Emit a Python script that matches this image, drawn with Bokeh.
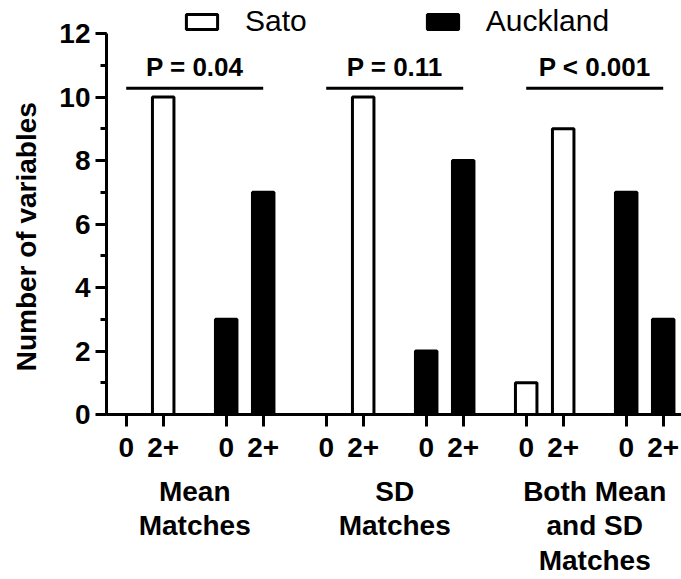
from bokeh.plotting import figure
from bokeh.models import (Range1d, FixedTicker, SingleIntervalTicker, LinearAxis,
                          Legend, LegendItem)
from bokeh.embed import file_html
from bokeh.resources import INLINE
from bokeh.core.properties import value

# ---------------- data ----------------
groups = ["Mean\nMatches", "SD\nMatches", "Both Mean\nand SD\nMatches"]
count_labels = ["0", "2+"]
series_names = ["Sato", "Auckland"]
sato_0 = [0, 0, 1]
sato_2plus = [10, 10, 9]
auckland_0 = [3, 2, 7]
auckland_2plus = [7, 8, 3]
p_labels = ["P = 0.04", "P = 0.11", "P < 0.001"]
y_label = "Number of variables"

# ---------------- layout constants ----------------
GROUP_STEP = 2.0
SERIES_STEP = 1.0
COUNT_STEP = 0.37
BAR_W = 0.215
P_LINE_Y = 10.28
P_TEXT_Y = 10.94
Y_LABEL_POS = 5.6
FONT = "Liberation Sans"

series = [
    (series_names[0], "white", [sato_0, sato_2plus]),
    (series_names[1], "black", [auckland_0, auckland_2plus]),
]

p = figure(width=681, height=579, output_backend="svg", toolbar_location=None,
           x_range=Range1d(-0.197, 5.553), y_range=Range1d(0, 13.04),
           min_border_left=106, min_border_right=0, min_border_top=0,
           min_border_bottom=165)
p.xgrid.visible = False
p.ygrid.visible = False
p.outline_line_color = None
p.background_fill_color = "white"
p.border_fill_color = "white"

tick_pos = []
tick_overrides = {}
legend_items = []
for s_i, (name, color, vals) in enumerate(series):
    xs, tops = [], []
    for g in range(len(groups)):
        for c in range(len(count_labels)):
            x = g * GROUP_STEP + s_i * SERIES_STEP + c * COUNT_STEP
            xs.append(x)
            tops.append(vals[c][g])
            tick_pos.append(x)
            tick_overrides[x] = count_labels[c]
    r = p.vbar(x=xs, top=tops, width=BAR_W, fill_color=color,
               line_color="black", line_width=3)
    legend_items.append(LegendItem(label=name, renderers=[r]))

legend = Legend(items=legend_items, orientation="horizontal", location=(76, 376),
                glyph_width=39, glyph_height=19, label_standoff=24, spacing=116,
                padding=0, margin=0, border_line_color=None,
                background_fill_alpha=0, label_text_font=FONT,
                label_text_font_size="30px", label_text_color="black")
p.add_layout(legend)

# significance bars
bases = [g * GROUP_STEP for g in range(len(groups))]
span = SERIES_STEP + COUNT_STEP
p.segment(x0=bases, x1=[b + span for b in bases], y0=P_LINE_Y, y1=P_LINE_Y,
          line_width=3, line_color="black")
p.text(x=[b + span / 2 for b in bases], y=P_TEXT_Y, text=p_labels,
       text_align="center", text_baseline="alphabetic",
       text_font=value(FONT), text_font_style="bold", text_font_size="26px",
       text_color="black")

# y axis
ya = p.yaxis[0]
ya.ticker = SingleIntervalTicker(interval=2, num_minor_ticks=2)
ya.bounds = (0, 12)
ya.axis_line_width = 3
ya.major_tick_line_width = 3
ya.minor_tick_line_width = 3
ya.major_tick_out = 11
ya.major_tick_in = 0
ya.minor_tick_out = 6
ya.minor_tick_in = 0
ya.major_label_standoff = 5
ya.major_label_text_font = FONT
ya.major_label_text_font_style = "bold"
ya.major_label_text_font_size = "28px"
ya.major_label_text_color = "black"

# y axis title, as a label-only axis so it can sit where the reference has it
ylab_axis = LinearAxis(ticker=FixedTicker(ticks=[Y_LABEL_POS], minor_ticks=[]),
                       major_label_overrides={Y_LABEL_POS: y_label},
                       major_label_orientation="vertical",
                       axis_line_color=None, major_tick_line_color=None,
                       minor_tick_line_color=None, major_tick_out=0, major_tick_in=0,
                       major_label_standoff=14, major_label_text_font=FONT,
                       major_label_text_font_style="bold",
                       major_label_text_font_size="28px",
                       major_label_text_color="black")
p.add_layout(ylab_axis, "left")

# x axis (counts)
xa = p.xaxis[0]
xa.ticker = FixedTicker(ticks=sorted(tick_pos), minor_ticks=[])
xa.major_label_overrides = tick_overrides
xa.axis_line_width = 3
xa.major_tick_line_width = 3
xa.major_tick_out = 12
xa.major_tick_in = 0
xa.minor_tick_line_color = None
xa.major_label_standoff = 11
xa.major_label_text_font = FONT
xa.major_label_text_font_style = "bold"
xa.major_label_text_font_size = "28px"
xa.major_label_text_color = "black"

# x axis (groups)
centers = [b + span / 2 for b in bases]
cat_axis = LinearAxis(ticker=FixedTicker(ticks=centers, minor_ticks=[]),
                      major_label_overrides={c: groups[i] for i, c in enumerate(centers)},
                      axis_line_color=None, major_tick_line_color=None,
                      minor_tick_line_color=None, major_tick_out=0, major_tick_in=0,
                      major_label_standoff=16, major_label_text_font=FONT,
                      major_label_text_font_style="bold",
                      major_label_text_font_size="28px",
                      major_label_text_line_height=1.12,
                      major_label_text_color="black")
p.add_layout(cat_axis, "below")

open("out.html", "w").write(file_html(p, INLINE))
